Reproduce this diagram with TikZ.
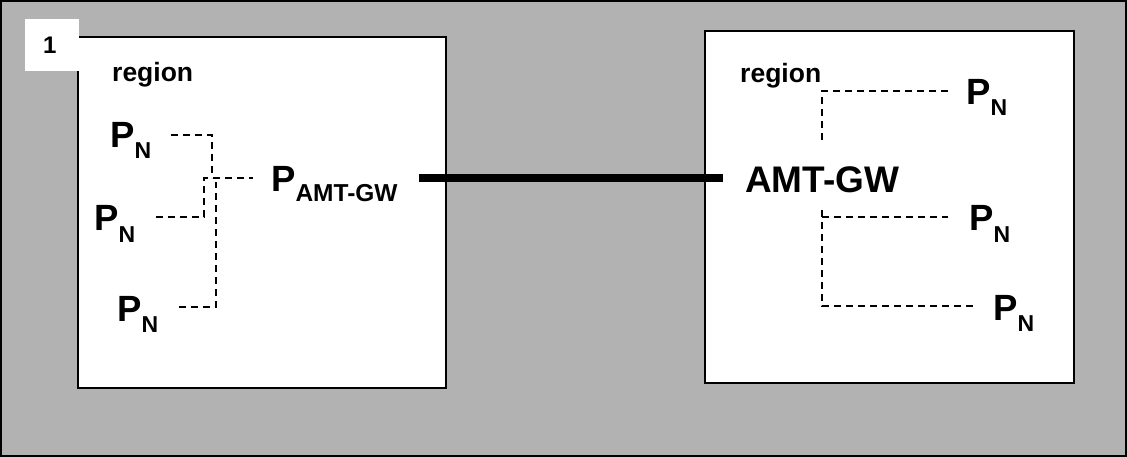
\documentclass[tikz,border=0pt]{standalone}
\usepackage{fontspec}
\setmainfont{Liberation Sans}
\definecolor{bggray}{RGB}{178,178,178}
\newcommand{\Pidx}[1]{P\raisebox{-11pt}{\fontsize{23}{23}\selectfont #1}}
\begin{document}
\begin{tikzpicture}[x=1pt,y=-1pt,line join=miter]
                \tikzset{txt/.style={inner sep=0pt,anchor=base west,font=\bfseries\fontsize{36.5}{40}\selectfont},
                    small/.style={txt,font=\bfseries\fontsize{26.5}{30}\selectfont},
                    frame/.style={draw=black,line width=1.6pt,fill=white},
                    link/.style={dash pattern=on 7pt off 5pt,line width=1.5pt},
                    trunk/.style={line width=7.5pt}}
                \useasboundingbox (0,0) rectangle (1127,457);
                \draw[fill=bggray,line width=1.6pt] (0.8,0.8) rectangle (1126.2,456.2);
                \draw[frame] (78,37) rectangle (446,388);
                \draw[frame] (705,31) rectangle (1074,383);
                \fill[white] (25,19) rectangle (79,71);
                \node[small,font=\bfseries\fontsize{24}{28}\selectfont] (num) at (43,54) {1};
                % left region
                \node[small] (regl) at (112,82) {region};
                \node[txt] (pn1) at (110,148) {\Pidx{N}};
                \node[txt] (pn2) at (94,231) {\Pidx{N}};
                \node[txt] (pn3) at (117,321) {\Pidx{N}};
                \node[txt] (gwl) at (271,192) {P\raisebox{-10pt}{\fontsize{24.5}{25}\selectfont AMT-GW}};
                \coordinate (lgw) at (253,178);
                \coordinate (l1) at (171,135);
                \coordinate (l2) at (156,217);
                \coordinate (l3) at (179,307);
                \draw[link] (l1) -| ([xshift=-41pt]lgw);
                \draw[link] (l2) -| ([xshift=-49pt]lgw) -- (lgw);
                \draw[link] (l3) -| ([xshift=-37pt,yshift=-4pt]lgw);
                % right region
                \node[small] (regr) at (740,83) {region};
                \node[txt,font=\bfseries\fontsize{37}{40}\selectfont] (gwr) at (745,193) {AMT-GW};
                \node[txt] (rn1) at (966,105) {\Pidx{N}};
                \node[txt] (rn2) at (969,231) {\Pidx{N}};
                \node[txt] (rn3) at (993,320) {\Pidx{N}};
                \coordinate (rt) at (822,140);
                \coordinate (rb) at (822,210);
                \coordinate (r1) at (949,91);
                \coordinate (r2) at (948,217);
                \coordinate (r3) at (976,306);
                \draw[link] (rt) |- (r1);
                \draw[link] (rb) |- (r3);
                \draw[link] (rb|-r2) -- (r2);
                % tunnel
                \draw[trunk,shorten <=21pt,shorten >=22pt] (gwl.east|-lgw) -- (gwr.west|-lgw);
\end{tikzpicture}
\end{document}
